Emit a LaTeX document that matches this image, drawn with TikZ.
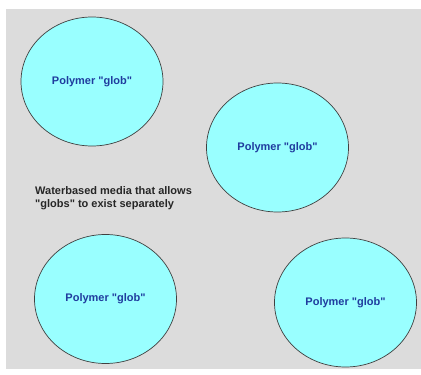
\documentclass[tikz,border=0pt]{standalone}
\usepackage{fontspec}
\setmainfont{Liberation Sans}
\usetikzlibrary{shapes.geometric}
\definecolor{bggray}{HTML}{DCDCDC}
\definecolor{globfill}{HTML}{99FFFF}
\definecolor{globtext}{HTML}{1F3C9E}
\definecolor{globline}{HTML}{404040}
\tikzset{
  glob/.style={ellipse, draw=globline, line width=0.7pt, fill=globfill,
    minimum width=142pt, minimum height=129pt, inner sep=0pt,
    text=globtext, font=\fontsize{11}{13}\selectfont\bfseries},
  note/.style={anchor=west, align=left, inner sep=0pt, text=black!85,
    font=\fontsize{11}{13}\selectfont\bfseries}
}
\begin{document}
\begin{tikzpicture}[x=1pt,y=-1pt]
\useasboundingbox (0,0) rectangle (421,375);
\fill[bggray] (6,9) rectangle (421,369);
\node[glob] (g1) at (92,81.5) {Polymer \textquotedbl glob\textquotedbl};
\node[glob] (g2) at (277.5,147.5) {Polymer \textquotedbl glob\textquotedbl};
\node[glob] (g3) at (105.5,299) {Polymer \textquotedbl glob\textquotedbl};
\node[glob] (g4) at (345.5,302.5) {Polymer \textquotedbl glob\textquotedbl};
\node[note] (media) at (35,198) {Waterbased media that allows\\\textquotedbl globs\textquotedbl{} to exist separately};
\end{tikzpicture}
\end{document}
